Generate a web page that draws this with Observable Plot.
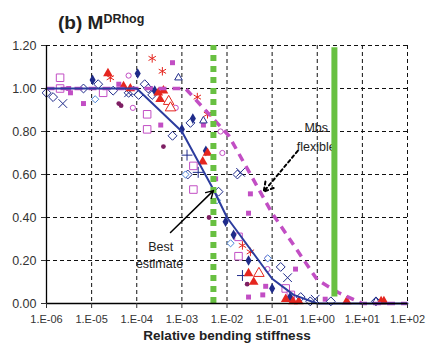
<!DOCTYPE html>
<html><head><meta charset="utf-8">
<script src="https://cdn.jsdelivr.net/npm/d3@7"></script>
<script src="https://cdn.jsdelivr.net/npm/@observablehq/plot@0.6"></script>
<style>
body{margin:0;background:#fff;font-family:"Liberation Sans",Arial,sans-serif;}
#wrap{position:relative;width:428px;height:346px;}
#title{position:absolute;left:58px;top:12px;font-weight:bold;font-size:19px;color:#222;line-height:22px;}
#title sup{font-size:12.5px;vertical-align:top;position:relative;top:-4px;}
</style></head><body><div id="wrap"><div id="title">(b) M<sup>DRhog</sup></div></div>
<script>
// ---- axes ----
const xTicks = [1e-6, 1e-5, 1e-4, 1e-3, 1e-2, 1e-1, 1e0, 1e1, 1e2];
const yTicks = [0, 0.2, 0.4, 0.6, 0.8, 1.0, 1.2];
const xTitle = "Relative bending stiffness";

// ---- curves ----
const bestX = [1e-6, 1e-4, 1e-3, 5e-3, 1e-2, 1e-1, 3e-1, 1, 1e2];
const bestY = [1.00, 1.00, 0.80, 0.53, 0.40, 0.115, 0.04, 0.00, 0.00];
const mbsX = [1e-6, 1.2e-3, 1.1e-2, 1e-1, 1, 3, 1e1, 1e2];
const mbsY = [1.00, 1.00, 0.78, 0.42, 0.11, 0.05, 0.00, 0.00];

// ---- reference lines ----
const dottedGreenX = [5.0e-3];
const solidGreenX = [2.4];

// ---- scatter series ----
const openDiamondX = [1.0e-6, 1.4e-6, 6.6e-6, 1.4e-5, 3.0e-5, 6.6e-5, 8.5e-5, 1.1e-4, 1.5e-4, 1.8e-4, 2.2e-4, 6.2e-4, 1.55e-3, 1.35e-3, 6.5e-3, 1.7e-2, 1.55e-1, 4.3e-1, 0.7, 2.0, 2.0e1];
const openDiamondY = [0.98, 0.96, 1.00, 1.02, 0.99, 0.98, 0.99, 0.97, 1.02, 1.00, 0.97, 0.78, 0.84, 0.60, 0.52, 0.60, 0.17, 0.03, 0.01, 0.01, 0.01];
const filledDiamondX = [1.05e-5, 1.05e-4, 2.5e-4, 1.0e-3, 1.75e-3, 3.4e-3, 9.3e-3, 1.4e-2, 3.0e-2, 1.0e-1, 2.5e-1];
const filledDiamondY = [1.04, 1.07, 0.99, 0.81, 0.86, 0.71, 0.38, 0.32, 0.20, 0.07, 0.03];
const lightDiamondX = [1.2e-5, 1.2e-3, 6.0e-3, 1.2e-2, 8.0e-2];
const lightDiamondY = [0.95, 0.60, 0.48, 0.28, 0.21];
const crossX = [2.3e-6, 6.6e-5, 2.0e-2, 2.2e-1, 9.0e-1];
const crossY = [0.93, 0.98, 0.61, 0.12, 0.02];
const openSquareX = [2.0e-6, 2.0e-6, 1.8e-5, 1.7e-4, 1.7e-4, 1.8e-3, 1.8e-3, 1.8e-2, 1.8e-2, 2.0e-1, 2.6e-1];
const openSquareY = [1.05, 1.00, 0.98, 0.88, 0.81, 0.64, 0.53, 0.31, 0.22, 0.07, 0.04];
const filledSquareX = [3.1e-6, 3.4e-6, 6.6e-6, 4.0e-5, 2.0e-4, 3.4e-4, 6.2e-4, 3.0e-3, 5.6e-3, 3.3e-2, 3.0e-2, 3.0e-2, 6.2e-2, 7.2e-2, 3.3e-1, 1.5];
const filledSquareY = [1.00, 0.98, 0.93, 1.02, 1.00, 0.83, 1.12, 0.83, 0.58, 0.51, 0.42, 0.03, 0.04, 0.08, 0.16, 0.02];
const openCircleX = [6.6e-5, 8.2e-5, 7.3e-4, 7.2e-3, 7.9e-3, 7.9e-2, 7.9e-2];
const openCircleY = [1.06, 0.91, 0.91, 0.80, 0.70, 0.21, 0.16];
const redTriangleX = [2.3e-5, 5.1e-5, 7.2e-5, 3.0e-4, 3.3e-4, 3.9e-4, 2.9e-3, 3.7e-3, 3.0e-2, 3.9e-2, 2.0e-1, 2.9e-1, 3.9e-1, 4.5, 2.6e1, 3.0e1];
const redTriangleY = [1.07, 1.01, 1.00, 0.98, 0.95, 0.99, 0.66, 0.70, 0.14, 0.10, 0.02, 0.01, 0.01, 0.01, 0.01, 0.01];
const asteriskX = [2.6e-5, 2.2e-4, 3.7e-4, 2.2e-3, 3.7e-3, 2.2e-2, 3.3e-2];
const asteriskY = [1.05, 1.14, 1.08, 0.96, 0.88, 0.27, 0.24];
const openRedTriangleX = [5.1e-4, 5.6e-4, 5.1e-2];
const openRedTriangleY = [0.94, 0.91, 0.14];
const navyTriangleX = [8.4e-4, 3.0e-3, 2.0e1];
const navyTriangleY = [1.05, 0.85, 0.01];
const darkCircleX = [4.0e-5, 4.5e-5, 3.9e-4, 4.0e-3, 2.8e-2];
const darkCircleY = [0.93, 0.92, 0.73, 0.40, 0.09];
const plusX = [1.3e-3, 2.3e-3, 2.2e-2];
const plusY = [0.69, 0.61, 0.13];

// ---- annotations ----
const bestLabel = ["Best", "estimate"];
const bestLabelX = [3.4e-4, 3.2e-4];
const bestLabelY = [0.265, 0.185];
const bestArrow = {x1: 5.6e-4, y1: 0.33, x2: 5.0e-3, y2: 0.525};
const mbsLabel = ["Mbs", "flexible"];
const mbsLabelX = [0.95, 0.95];
const mbsLabelY = [0.815, 0.73];
const mbsArrow = {x1: 0.37, y1: 0.71, x2: 0.065, y2: 0.52};

const NAVY = "#1f2b8a", MAG = "#c24ec4", RED = "#e5261f", GREEN = "#68c041";
const zipXY = (xs, ys) => xs.map((x, i) => ({x, y: ys[i]}));
const series = [
  {d: zipXY(filledSquareX, filledSquareY), symbol: "square", fill: MAG, stroke: "none", r: 2.8},
  {d: zipXY(openSquareX, openSquareY), symbol: "square2", fill: "white", stroke: MAG, r: 4.8},
  {d: zipXY(openCircleX, openCircleY), symbol: "circle", fill: "white", stroke: MAG, r: 2.6},
  {d: zipXY(darkCircleX, darkCircleY), symbol: "circle", fill: "#7e1f63", stroke: "none", r: 2.4},
  {d: zipXY(openDiamondX, openDiamondY), symbol: "diamond2", fill: "white", stroke: NAVY, r: 4},
  {d: zipXY(lightDiamondX, lightDiamondY), symbol: "diamond2", fill: "white", stroke: "#4d86d8", r: 3.2},
  {d: zipXY(filledDiamondX, filledDiamondY), symbol: "diamond", fill: NAVY, stroke: "none", r: 3.2},
  {d: zipXY(crossX, crossY), symbol: "times", fill: "none", stroke: NAVY, r: 4},
  {d: zipXY(plusX, plusY), symbol: "plus", fill: "none", stroke: NAVY, r: 3.6},
  {d: zipXY(navyTriangleX, navyTriangleY), symbol: "triangle2", fill: "white", stroke: NAVY, r: 3.6},
  {d: zipXY(openRedTriangleX, openRedTriangleY), symbol: "triangle2", fill: "white", stroke: RED, r: 5},
  {d: zipXY(redTriangleX, redTriangleY), symbol: "triangle", fill: RED, stroke: "none", r: 3.6},
  {d: zipXY(asteriskX, asteriskY), symbol: "asterisk", fill: "none", stroke: RED, r: 4}
];

const fmtX = d => { const e = Math.round(Math.log10(d)); return "1.E" + (e < 0 ? "-" : "+") + String(Math.abs(e)).padStart(2, "0"); };

const chart = Plot.plot({
  width: 428, height: 346,
  marginLeft: 46, marginRight: 21, marginTop: 45, marginBottom: 43,
  style: {fontFamily: "'Liberation Sans', Arial, sans-serif", background: "transparent", color: "#333"},
  x: {type: "log", domain: [1e-6, 1e2]},
  y: {domain: [0, 1.2]},
  marks: [
    Plot.ruleX(xTicks.slice(1), {stroke: "#111", strokeWidth: 1, strokeDasharray: "4,3"}),
    Plot.ruleY(yTicks.slice(1), {stroke: "#111", strokeWidth: 1, strokeDasharray: "4,3"}),
    ...series.map(s => Plot.dot(s.d, {x: "x", y: "y", symbol: s.symbol, fill: s.fill, stroke: s.stroke, r: s.r, strokeWidth: 1})),
    Plot.line(zipXY(mbsX, mbsY), {x: "x", y: "y", stroke: MAG, strokeWidth: 3.5, strokeDasharray: "8,6", strokeLinecap: "butt"}),
    Plot.line(zipXY(bestX, bestY), {x: "x", y: "y", stroke: "#2c3c9e", strokeWidth: 2}),
    Plot.text(bestLabel, {x: (d, i) => bestLabelX[i], y: (d, i) => bestLabelY[i], text: d => d, fontSize: 12.5, fill: "#222"}),
    Plot.text(mbsLabel, {x: (d, i) => mbsLabelX[i], y: (d, i) => mbsLabelY[i], text: d => d, fontSize: 12.5, fill: "#222"}),
    Plot.ruleX(dottedGreenX, {y1: 0, y2: 1.2, stroke: GREEN, strokeWidth: 6, strokeDasharray: "6,5"}),
    Plot.ruleX(solidGreenX, {y1: 0.03, y2: 1.19, stroke: GREEN, strokeWidth: 6}),
    Plot.arrow([bestArrow], {x1: "x1", y1: "y1", x2: "x2", y2: "y2", stroke: "#000", strokeWidth: 1.5, headLength: 8}),
    Plot.arrow([mbsArrow], {x1: "x1", y1: "y1", x2: "x2", y2: "y2", stroke: "#000", strokeWidth: 2, strokeDasharray: "3,3", headLength: 8}),
    Plot.ruleX([1e-6], {stroke: "#000", strokeWidth: 1.3}),
    Plot.ruleY([0], {stroke: "#000", strokeWidth: 1.3}),
    Plot.axisX({ticks: xTicks, tickFormat: fmtX, tickSize: 5, tickPadding: 7, fontSize: 11, label: null}),
    Plot.axisY({ticks: yTicks, tickFormat: d3.format(".2f"), tickSize: 5, tickPadding: 5, fontSize: 12.5, label: null}),
    Plot.text([xTitle], {frameAnchor: "bottom", dy: 36, text: d => d, fontWeight: "bold", fontSize: 13.5, fill: "#222"})
  ]
});
document.getElementById("wrap").prepend(chart);
</script>
</body></html>
